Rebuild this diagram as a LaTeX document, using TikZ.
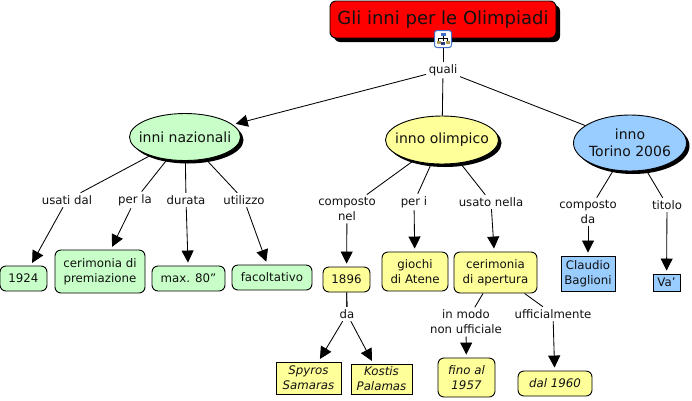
\documentclass[tikz,border=0pt]{standalone}
\usepackage{fontspec}
\setmainfont{DejaVu Sans}
\usetikzlibrary{shapes.geometric,shadows,arrows.meta}
\definecolor{cgreen}{HTML}{C8FFC8}
\definecolor{cyellow}{HTML}{FFFF99}
\definecolor{cblue}{HTML}{99CCFF}
\definecolor{ctext}{HTML}{111111}
\definecolor{iconblue}{HTML}{3F6FC8}
\definecolor{icondark}{HTML}{2A3F7A}
\definecolor{iconolive}{HTML}{A89A50}
\tikzset{
  leaffont/.style={font=\fontsize{11.8}{15}\selectfont},
  leafit/.style={font=\fontsize{11.8}{15}\selectfont\itshape},
  base/.style={draw=black,line width=0.9pt,inner sep=0pt,align=center,text=ctext,leaffont},
  box/.style={base,rectangle,minimum width=#1},
  rbox/.style={base,rectangle,rounded corners=6pt,minimum width=#1},
  oval/.style={base,ellipse,inner sep=-8pt,font=\fontsize{14}{17}\selectfont,drop shadow={shadow xshift=3pt,shadow yshift=-3pt,fill=black,opacity=1}},
  lab/.style={inner sep=2.5pt,align=center,text=ctext,font=\fontsize{11.7}{15}\selectfont},
  link/.style={line width=0.85pt},
  arr/.style={line width=0.85pt,-{Triangle[length=12pt,width=12pt]},shorten >=3pt},
}
\begin{document}
\begin{tikzpicture}[x=1pt,y=-1pt]
\useasboundingbox[fill=white] (0,0) rectangle (692,400);
% concepts
\node[base,rounded corners=6pt,fill=red,minimum width=226pt,minimum height=37pt,font=\fontsize{18}{20}\selectfont,
  drop shadow={shadow xshift=4pt,shadow yshift=-4pt,fill=black,opacity=1}] (root) at (443,19.5) {\raisebox{3pt}{Gli inni per le Olimpiadi}};
\node[oval,fill=cgreen,minimum width=111pt,minimum height=47pt] (nat) at (185,137) {inni nazionali};
\node[oval,fill=cyellow,minimum width=113pt,minimum height=48pt] (oli) at (442,140) {inno olimpico};
\node[oval,fill=cblue,minimum width=113pt,minimum height=56pt] (tor) at (630,143) {inno\\Torino 2006};
% leaves
\node[rbox=47pt,fill=cgreen,minimum height=25pt] (a1) at (23.5,278.5) {1924};
\node[rbox=90pt,fill=cgreen,minimum height=43pt] (a2) at (100,271.5) {cerimonia di\\premiazione};
\node[rbox=73pt,fill=cgreen,minimum height=25pt] (a3) at (188.5,278.5) {max. 80''};
\node[rbox=80pt,fill=cgreen,minimum height=25pt] (a4) at (272,277.5) {facoltativo};
\node[rbox=47pt,fill=cyellow,minimum height=25pt] (b1) at (346.5,279.5) {1896};
\node[rbox=66pt,fill=cyellow,minimum height=39pt] (b2) at (415,271.5) {giochi\\di Atene};
\node[rbox=83pt,fill=cyellow,minimum height=41pt] (b3) at (495.5,272.5) {cerimonia\\di apertura};
\node[box=54pt,fill=cblue,minimum height=35pt] (c1) at (588,273.5) {Claudio\\Baglioni};
\node[box=27pt,fill=cblue,minimum height=17pt] (c2) at (666.5,282.5) {Va'};
\node[box=65pt,fill=cyellow,minimum height=32pt,leafit] (d1) at (308.5,378) {Spyros\\Samaras};
\node[box=61pt,fill=cyellow,minimum height=30pt,leafit] (d2) at (381.5,379) {Kostis\\Palamas};
\node[rbox=57pt,fill=cyellow,minimum height=39pt,leafit] (e1) at (466.5,377.5) {fino al\\1957};
\node[rbox=74pt,fill=cyellow,minimum height=25pt,leafit] (e2) at (555,383.5) {dal 1960};
% labels
\node[lab] (q) at (443,70) {quali};
\node[lab] (l1) at (67,200) {usati dal};
\node[lab] (l2) at (135,200) {per la};
\node[lab] (l3) at (186,200) {durata};
\node[lab] (l4) at (244,200) {utilizzo};
\node[lab] (l5) at (347,209) {composto\\nel};
\node[lab] (l6) at (414,202) {per i};
\node[lab] (l7) at (491,202) {usato nella};
\node[lab] (l8) at (588,212) {composto\\da};
\node[lab] (l9) at (667,205) {titolo};
\node[lab] (l10) at (347,314) {da};
\node[lab] (l11) at (466,322) {in modo\\non ufficiale};
\node[lab] (l12) at (553,314) {ufficialmente};
% connectors
\draw[link] (root) -- (q);
\draw[arr] (q) -- (nat);
\draw[link] (q) -- (oli);
\draw[link] (q) -- (tor);
\foreach \s/\l/\t in {nat/l1/a1,nat/l2/a2,nat/l3/a3,nat/l4/a4,oli/l5/b1,oli/l6/b2,oli/l7/b3,tor/l8/c1,tor/l9/c2,b1/l10/d1,b1/l10/d2,b3/l11/e1,b3/l12/e2}{
  \draw[link] (\s) -- (\l);
  \draw[arr] (\l) -- (\t);
}
% icon
\node[draw=iconblue,fill=white,rounded corners=2.5pt,minimum size=17pt,inner sep=0pt,line width=1pt] (icon) at (443,39) {};
\fill[iconblue] (440.5,32.5) rectangle (445.5,35.5);
\draw[black,line width=0.6pt] (443,35.5) -- (443,41) (438.5,41) -- (438.5,38.5) -- (447.5,38.5) -- (447.5,41);
\fill[iconolive] (436.5,40.5) rectangle (440.5,43.5);
\fill[iconolive] (445.5,40.5) rectangle (449.5,43.5);
\fill[icondark] (441,41.5) rectangle (445,45);
\end{tikzpicture}
\end{document}
